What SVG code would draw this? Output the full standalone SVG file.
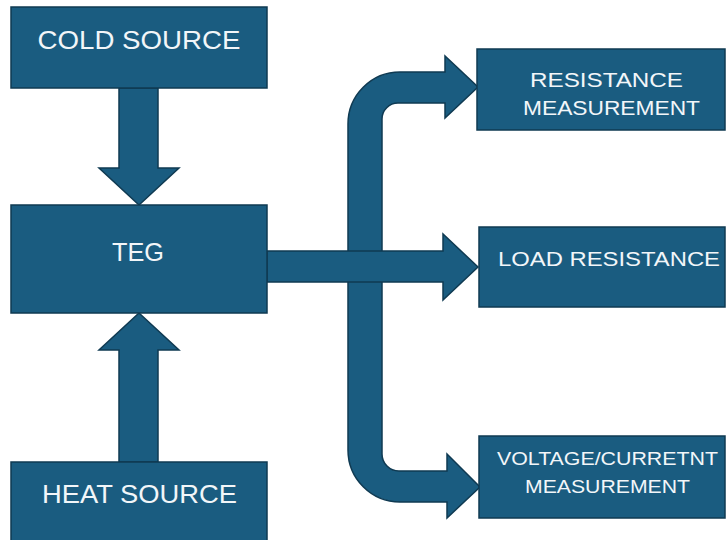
<svg xmlns="http://www.w3.org/2000/svg" width="727" height="540" viewBox="0 0 727 540">
<style>
.box{fill:#1a5c80;stroke:#0f3a52;stroke-width:1.5}
.arr{fill:#1a5c80;stroke:#0f3a52;stroke-width:1.5;stroke-linejoin:miter}
.t{font-family:"Liberation Sans",Arial,sans-serif;fill:#f2f6f9;text-anchor:middle}
</style>
<rect width="727" height="540" fill="#ffffff"/>
<g id="connectors">
<polygon class="arr" points="119,88 158,88 158,168 179,168 139,205 99,168 119,168"/>
<polygon class="arr" points="139,313 179,350 158,350 158,462 119,462 119,350 99,350"/>
<path class="arr" d="M382,119 A16,16 0 0 1 398,103 L445,103 L445,118 L478,87 L445,56 L445,72 L400,72 A52,52 0 0 0 348,124 L348,450 A52,52 0 0 0 400,502 L447,502 L447,518 L480,487 L447,454 L447,471 L399,471 A17,17 0 0 1 382,454 Z"/>
<polygon class="arr" points="267,251 443,251 443,234 478,267 443,300 443,282 267,282"/>
</g>
<g id="cold-source">
<rect class="box" x="11" y="7" width="256" height="81"/>
<text class="t" x="139" y="48.5" font-size="25.5" textLength="203" lengthAdjust="spacingAndGlyphs">COLD SOURCE</text>
</g>
<g id="teg">
<rect class="box" x="11" y="205" width="256" height="108"/>
<text class="t" x="138" y="261" font-size="25" textLength="52" lengthAdjust="spacingAndGlyphs">TEG</text>
</g>
<g id="heat-source">
<rect class="box" x="11" y="462" width="256" height="80"/>
<text class="t" x="139.5" y="503" font-size="25" textLength="195" lengthAdjust="spacingAndGlyphs">HEAT SOURCE</text>
</g>
<g id="resistance-measurement">
<rect class="box" x="477" y="49" width="248" height="81"/>
<text class="t" x="606.5" y="87" font-size="21" textLength="153" lengthAdjust="spacingAndGlyphs">RESISTANCE</text>
<text class="t" x="611.5" y="115" font-size="21" textLength="177" lengthAdjust="spacingAndGlyphs">MEASUREMENT</text>
</g>
<g id="load-resistance">
<rect class="box" x="479" y="227" width="246" height="80"/>
<text class="t" x="609" y="266" font-size="20" textLength="222" lengthAdjust="spacingAndGlyphs">LOAD RESISTANCE</text>
</g>
<g id="voltage-current-measurement">
<rect class="box" x="479" y="436" width="246" height="82"/>
<text class="t" x="607.5" y="465" font-size="18.5" textLength="221" lengthAdjust="spacingAndGlyphs">VOLTAGE/CURRETNT</text>
<text class="t" x="607.5" y="493" font-size="18.5" textLength="165" lengthAdjust="spacingAndGlyphs">MEASUREMENT</text>
</g>
</svg>
